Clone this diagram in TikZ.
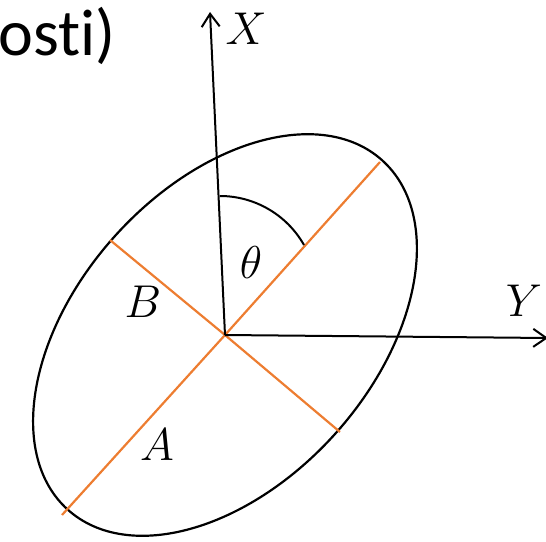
\RequirePackage{fix-cm}
\documentclass[tikz,border=0pt]{standalone}
\usepackage{fontspec}
\newfontfamily\calib[Ligatures=NoCommon]{Carlito}
\usetikzlibrary{arrows.meta}
\definecolor{axisorange}{RGB}{237,125,49}
\begin{document}
\begin{tikzpicture}[x=1pt,y=-1pt,
  axisline/.style={line width=2pt, -{Straight Barb[length=13pt,width=18pt,line width=2pt]}},
  halfaxis/.style={axisorange, line width=2.2pt},
  lbl/.style={font=\fontsize{46}{50}\selectfont, inner sep=0pt}]
\useasboundingbox (0,0) rectangle (546,541);
\coordinate (O) at (225,335);
\coordinate (Xtip) at (210,12);
\coordinate (Ytip) at (548,338);
\coordinate (Aup) at (380,162);
\coordinate (Alo) at (62,515);
\coordinate (Bul) at (110,240);
\coordinate (Blr) at (340,432);
\coordinate (arcS) at (220,196);
\coordinate (arcE) at (304,245);
% title fragment
\node[anchor=base east, inner sep=0pt, font=\calib\fontsize{66}{70}\selectfont] (title) at (116,55) {osti)};
% ellipse
\draw[line width=2.2pt, rotate around={48:(O)}] (O) ellipse [x radius=235pt, y radius=148pt];
% orange half axes
\draw[halfaxis] (Alo) -- (O) -- (Aup);
\draw[halfaxis] (Bul) -- (O) -- (Blr);
% coordinate axes
\draw[axisline] (O) -- (Xtip);
\draw[axisline] (O) -- (Ytip);
% angle arc
\draw[line width=2pt] (arcS) .. controls (254.7,196) and (286.9,214.8) .. (arcE);
% labels
\node[lbl] (lX) at (246,29) {$X$};
\node[lbl] (lY) at (524,301) {$Y$};
\node[lbl] (lT) at (251,263) {$\theta$};
\node[lbl] (lB) at (143,302) {$B$};
\node[lbl] (lA) at (157,445) {$A$};
\end{tikzpicture}
\end{document}
